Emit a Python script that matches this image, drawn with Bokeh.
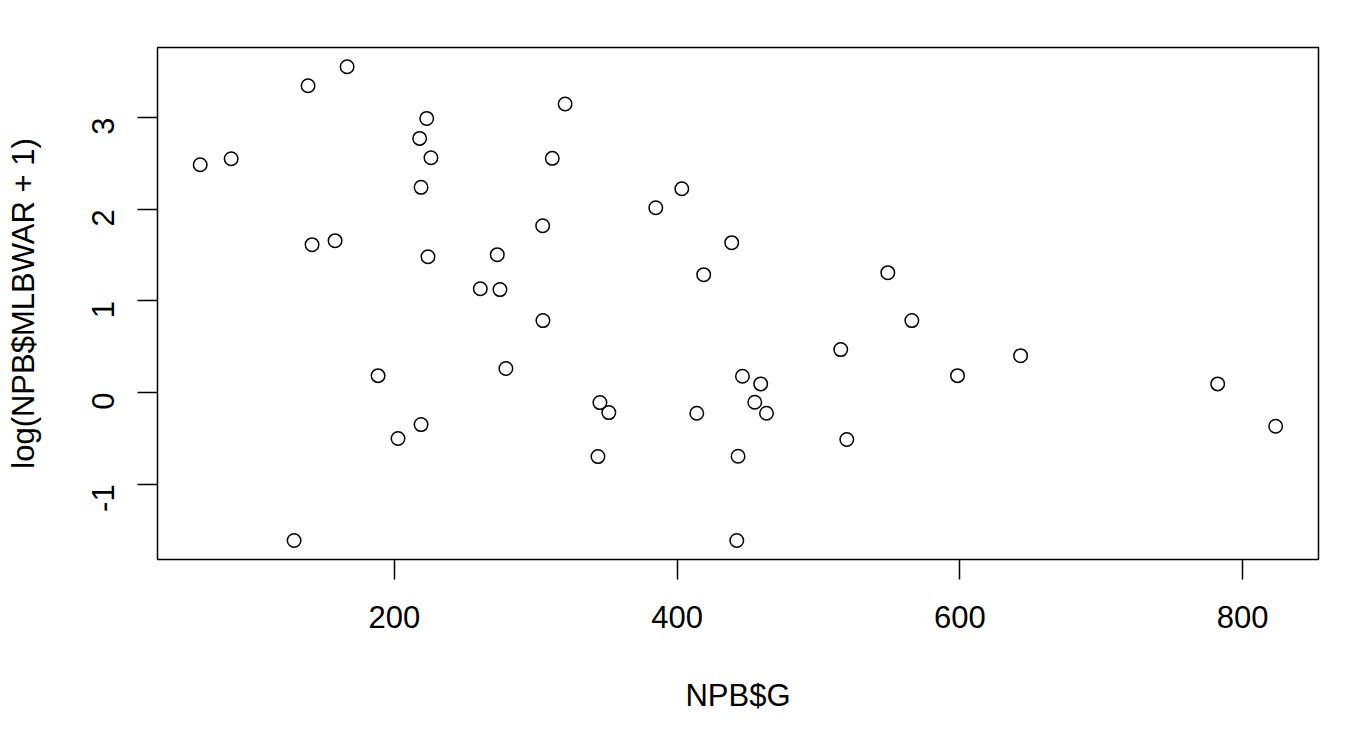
import math
from bokeh.plotting import figure
from bokeh.models import Range1d, FixedTicker
from bokeh.embed import file_html
from bokeh.resources import INLINE

# Data
npb_g = [62.7, 84.6, 129.1, 139.0, 141.8, 158.1, 166.6, 188.5, 202.6, 217.9,
         218.9, 218.9, 222.9, 223.8, 225.9, 260.8, 272.8, 274.7, 278.9, 305.1,
         304.9, 311.7, 320.8, 344.0, 345.4, 351.7, 384.9, 403.3, 413.9, 418.8,
         438.6, 443.1, 442.2, 446.2, 454.9, 459.1, 463.2, 515.7, 520.0, 549.0,
         566.0, 598.3, 642.9, 782.3, 823.3]
log_war = [2.485, 2.55, -1.613, 3.346, 1.613, 1.657, 3.553, 0.185, -0.50, 2.772,
           2.238, -0.349, 2.99, 1.482, 2.561, 1.133, 1.504, 1.123, 0.262, 0.785,
           1.82, 2.554, 3.147, -0.698, -0.109, -0.218, 2.016, 2.223, -0.226, 1.286,
           1.635, -0.694, -1.613, 0.178, -0.106, 0.095, -0.226, 0.469, -0.512, 1.308,
           0.785, 0.185, 0.403, 0.095, -0.367]

x_ticks = [200, 400, 600, 800]
y_ticks = [-1, 0, 1, 2, 3]
y_tick_labels = {-1: "-1", 0: "0", 1: "1", 2: "2", 3: "3"}
x_title = "NPB$G"
y_title = "log(NPB$MLBWAR + 1)"

FONT = "Liberation Sans"

p = figure(width=1334, height=716, output_backend="svg", toolbar_location=None,
           x_range=Range1d(32.5, 853.6), y_range=Range1d(-1.82, 3.763),
           min_border_left=157, min_border_right=16, min_border_top=47,
           min_border_bottom=157)

p.scatter(npb_g, log_war, marker="circle", size=13.5, fill_color=None,
          line_color="black", line_width=1.5)

p.xgrid.visible = False
p.ygrid.visible = False
p.outline_line_color = "black"
p.outline_line_width = 1.5
p.outline_line_alpha = 1.0
p.background_fill_color = "white"
p.border_fill_color = "white"

for ax in (p.xaxis[0], p.yaxis[0]):
    ax.axis_line_color = None
    ax.major_tick_line_color = "black"
    ax.major_tick_line_width = 1.5
    ax.major_tick_in = 0
    ax.major_tick_out = 20
    ax.minor_tick_line_color = None
    ax.major_label_text_font = FONT
    ax.major_label_text_font_size = "31px"
    ax.major_label_text_color = "black"
    ax.axis_label_text_font = FONT
    ax.axis_label_text_font_size = "31px"
    ax.axis_label_text_font_style = "normal"
    ax.axis_label_text_color = "black"

p.xaxis[0].ticker = FixedTicker(ticks=x_ticks)
p.yaxis[0].ticker = FixedTicker(ticks=y_ticks)
p.yaxis[0].major_label_overrides = y_tick_labels
p.xaxis[0].axis_label = x_title
p.yaxis[0].axis_label = y_title
p.xaxis[0].major_label_standoff = 26
p.xaxis[0].axis_label_standoff = 47
p.yaxis[0].major_label_orientation = math.pi / 2
p.yaxis[0].major_label_standoff = 34
p.yaxis[0].axis_label_standoff = 38

open("out.html", "w").write(file_html(p, INLINE))
